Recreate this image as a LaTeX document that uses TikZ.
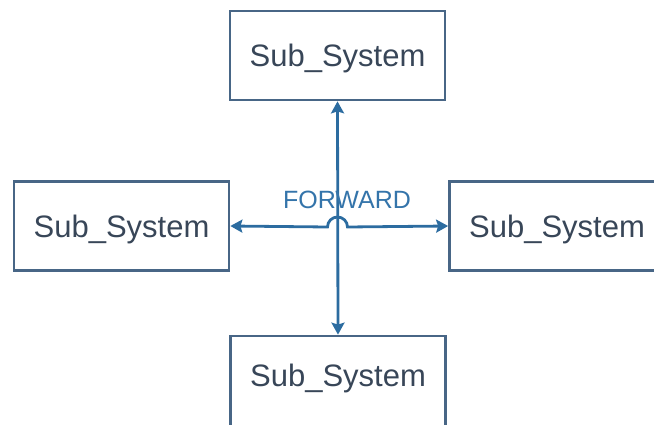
\documentclass[tikz,border=0pt]{standalone}
\usepackage{fontspec}
\setmainfont{Liberation Sans}
\usetikzlibrary{arrows.meta}
\definecolor{boxline}{RGB}{72,102,134}
\definecolor{boxtext}{RGB}{56,70,88}
\definecolor{link}{RGB}{44,108,160}
\definecolor{linktext}{RGB}{52,116,170}
\tikzset{
  subsys/.style={draw=boxline, line width=2.7pt, fill=white, inner sep=0pt,
    minimum width=215pt, minimum height=89pt, text=boxtext,
    font=\fontsize{31}{37}\selectfont, text height=22pt, text depth=0pt},
  link/.style={draw=link, line width=2.8pt,
    {Stealth[length=12pt,width=13pt,inset=2pt]}-{Stealth[length=12pt,width=13pt,inset=2pt]}},
}
\begin{document}
\begin{tikzpicture}[x=1pt,y=1pt]
\useasboundingbox (0,0) rectangle (654,-425);
\node[subsys] (T) at (337.5,-55.5) {Sub\_System};
\node[subsys] (L) at (121.5,-226) {Sub\_System};
\node[subsys] (R) at (557,-226) {Sub\_System};
\node[subsys, minimum height=90pt, text depth=12pt] (B) at (338,-381) {Sub\_System};
\coordinate (X) at (337.5,-227);
\draw[link] (T.south) -- (B.north);
\draw[link] (L.east) -- ([xshift=-10pt]X) arc[start angle=180, end angle=0, radius=10pt] -- (R.west);
\node[text=linktext, font=\fontsize{25}{30}\selectfont, anchor=base, inner sep=0pt] (F) at (347,-208) {FORWARD};
\end{tikzpicture}
\end{document}
